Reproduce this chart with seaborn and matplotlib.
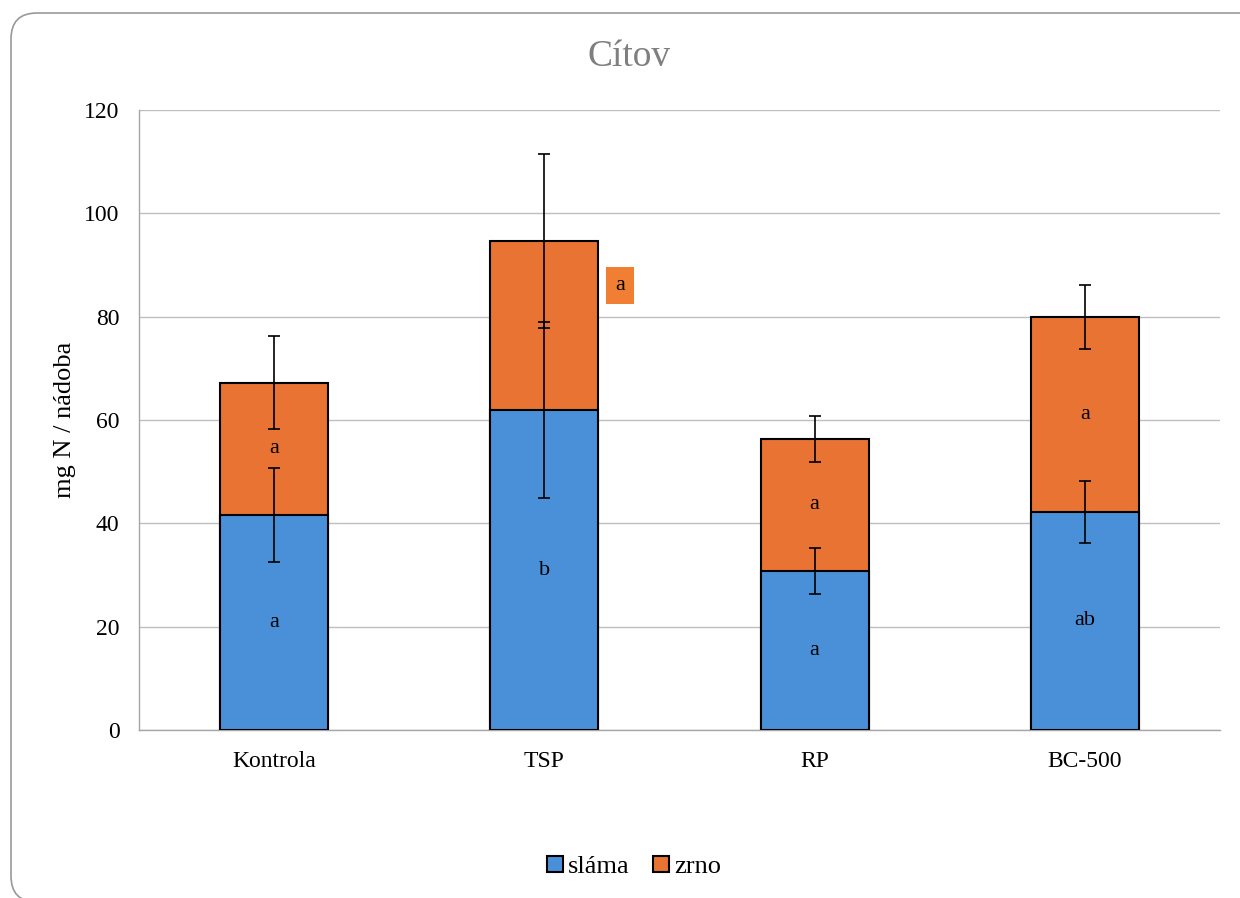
import numpy as np
import pandas as pd
import seaborn as sns
import matplotlib.pyplot as plt
from matplotlib.patches import FancyBboxPatch

categories = ["Kontrola", "TSP", "RP", "BC-500"]
slama = [41.6, 61.9, 30.8, 42.2]
zrno = [25.6, 32.7, 25.5, 37.7]
slama_err = [9.1, 17.0, 4.5, 6.0]
zrno_err = [9.0, 16.8, 4.5, 6.2]
slama_letters = ["a", "b", "a", "ab"]
zrno_letters = ["a", "a", "a", "a"]

blue = "#4A90D9"
orange = "#E87332"

sns.set_style("white")
plt.rcParams["font.family"] = ["Liberation Serif", "DejaVu Serif"]
plt.rcParams["text.color"] = "black"
plt.rcParams["xtick.color"] = "black"
plt.rcParams["ytick.color"] = "black"
plt.rcParams["axes.labelcolor"] = "black"

df = pd.DataFrame({"cat": categories, "slama": slama, "zrno": zrno})
df["total"] = df["slama"] + df["zrno"]

fig = plt.figure(figsize=(12.4, 8.98), dpi=100)
ax = fig.add_axes([139 / 1240, 1 - 730 / 898, 1081 / 1240, 620 / 898])

sns.barplot(data=df, x="cat", y="total", color=orange, saturation=1, width=0.4,
            edgecolor="black", linewidth=1.5, ax=ax, label="zrno", zorder=3)
sns.barplot(data=df, x="cat", y="slama", color=blue, saturation=1, width=0.4,
            edgecolor="black", linewidth=1.5, ax=ax, label="sláma", zorder=3)

x = np.arange(len(categories))
ax.errorbar(x, df["slama"], yerr=slama_err, fmt="none", ecolor="black",
            elinewidth=1.2, capsize=4.5, capthick=1.2, zorder=5)
ax.errorbar(x, df["total"], yerr=zrno_err, fmt="none", ecolor="black",
            elinewidth=1.2, capsize=4.5, capthick=1.2, zorder=5)

for i in range(len(categories)):
    ax.text(x[i], slama[i] / 2, slama_letters[i], ha="center", va="center",
            fontsize=16, zorder=6)
    if categories[i] == "TSP":
        ax.text(x[i] + 0.28, 86, zrno_letters[i], ha="center", va="center",
                fontsize=16, zorder=6,
                bbox=dict(boxstyle="square,pad=0.4", fc="#F07F33", ec="none"))
    else:
        ax.text(x[i], slama[i] + zrno[i] / 2, zrno_letters[i], ha="center",
                va="center", fontsize=16, zorder=6)

ax.set_ylim(0, 120)
ax.set_xlim(-0.5, 3.5)
ax.set_yticks(range(0, 121, 20))
ax.yaxis.grid(True, color="#BFBFBF", linewidth=1, zorder=0)
ax.set_axisbelow(True)
for s in ["top", "right"]:
    ax.spines[s].set_visible(False)
for s in ["left", "bottom"]:
    ax.spines[s].set_color("#A6A6A6")
    ax.spines[s].set_linewidth(1)
ax.tick_params(axis="x", length=0, labelsize=17, pad=15)
ax.tick_params(axis="y", length=0, labelsize=17, pad=14)
ax.set_xlabel("")
ax.set_ylabel("mg N / nádoba", fontsize=19, labelpad=6)

fig.text(629 / 1240, 1 - 57 / 898, "Cítov", ha="center", va="center",
         fontsize=27, color="#7F7F7F")

handles, labels = ax.get_legend_handles_labels()
order = [labels.index("sláma"), labels.index("zrno")]
ax.legend([handles[k] for k in order], ["sláma", "zrno"], loc="center",
          bbox_to_anchor=(634 / 1240, 1 - 867 / 898), bbox_transform=fig.transFigure,
          ncol=2, frameon=False, fontsize=19, handlelength=0.6, handleheight=0.6,
          handletextpad=0.2, columnspacing=0.9)

# rounded outer frame, drawn in pixel coordinates
border = FancyBboxPatch((11, -4), 1300, 898 - 13 + 4,
                        boxstyle="round,pad=0,rounding_size=26",
                        transform=None, fc="none", ec="#999999", lw=1.2)
fig.patches.append(border)

fig.savefig("out.png", dpi=100)
